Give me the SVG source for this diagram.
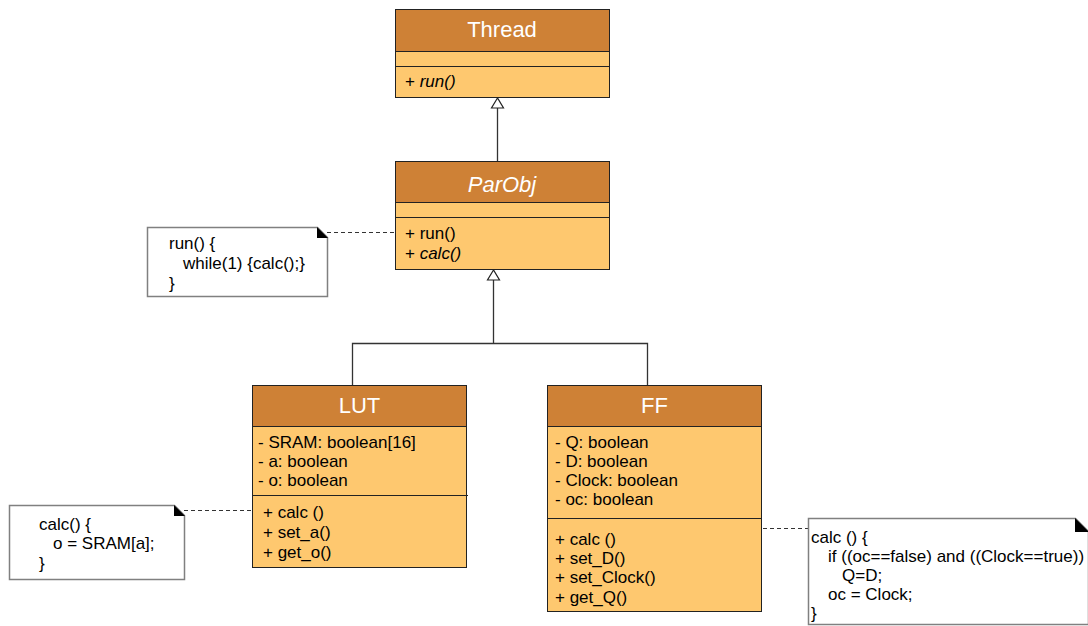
<svg xmlns="http://www.w3.org/2000/svg" width="1088" height="626" viewBox="0 0 1088 626">
<defs>
<style>
.hdr{fill:#CE8136;stroke:#222;stroke-width:1}
.body{fill:#FEC86F;stroke:#222;stroke-width:1}
.div{stroke:#222;stroke-width:1}
.title{font-family:"Liberation Sans",Arial,sans-serif;font-size:22px;fill:#fff;text-anchor:middle}
.t{font-family:"Liberation Sans",Arial,sans-serif;font-size:17px;fill:#000}
.nt{font-family:"Liberation Sans",Arial,sans-serif;font-size:17px;fill:#000}
.it{font-style:italic}
.note{fill:#fff;stroke:#808080;stroke-width:1.5}
.ear{fill:#000}
.dash{stroke:#333;stroke-width:1;stroke-dasharray:4,3;fill:none}
.gen{stroke:#333;stroke-width:1.3;fill:none}
.tri{fill:#fff;stroke:#222;stroke-width:1.2}
</style>
</defs>
<rect width="1088" height="626" fill="#fff"/>

<g id="connectors">
<path class="gen" d="M497.5,107 V161"/>
<path class="tri" d="M497.5,98 L491.5,108 H503.5 Z"/>
<path class="gen" d="M493.5,280 V343.5 M352.5,385 V343.5 H647.5 V385"/>
<path class="tri" d="M493.5,270 L487.5,280 H499.5 Z"/>
<path class="dash" d="M327,232.5 H395"/>
<path class="dash" d="M184,510.5 H252"/>
<path class="dash" d="M763,528.5 H808"/>
</g>

<g id="Thread">
<rect class="hdr" x="395.5" y="9.5" width="214" height="42"/>
<rect class="body" x="395.5" y="51.5" width="214" height="46"/>
<line class="div" x1="395.5" y1="66.5" x2="609.5" y2="66.5"/>
<text class="title" x="502" y="37">Thread</text>
<text class="t" x="405" y="87"><tspan>+ </tspan><tspan class="it">run()</tspan></text>
</g>

<g id="ParObj">
<rect class="hdr" x="395.5" y="161.5" width="214" height="41"/>
<rect class="body" x="395.5" y="202.5" width="214" height="67"/>
<line class="div" x1="395.5" y1="217.5" x2="609.5" y2="217.5"/>
<text class="title it" x="502" y="192">ParObj</text>
<text class="t" x="405" y="239">+ run()</text>
<text class="t" x="405" y="259"><tspan>+ </tspan><tspan class="it">calc()</tspan></text>
</g>

<g id="ParObjNote">
<path class="note" d="M147.5,227.5 H317.5 L327.5,237.5 V296.5 H147.5 Z"/>
<path class="ear" d="M317,227 V238 H328 Z"/>
<text class="nt" x="169" y="249">run() {</text>
<text class="nt" x="183" y="269">while(1) {calc();}</text>
<text class="nt" x="169" y="289">}</text>
</g>

<g id="LUT">
<rect class="hdr" x="252.5" y="385.5" width="214" height="41"/>
<rect class="body" x="252.5" y="426.5" width="214" height="141"/>
<line class="div" x1="252.5" y1="495.5" x2="468" y2="495.5"/>
<text class="title" x="359.5" y="413">LUT</text>
<text class="t" x="258" y="448">- SRAM: boolean[16]</text>
<text class="t" x="258" y="467">- a: boolean</text>
<text class="t" x="258" y="486">- o: boolean</text>
<text class="t" x="263" y="518">+ calc ()</text>
<text class="t" x="263" y="538">+ set_a()</text>
<text class="t" x="263" y="558">+ get_o()</text>
</g>

<g id="LUTNote">
<path class="note" d="M9.5,505.5 H174.5 L184.5,515.5 V579.5 H9.5 Z"/>
<path class="ear" d="M174,505 V516 H185 Z"/>
<text class="nt" x="39" y="530">calc() {</text>
<text class="nt" x="53" y="549">o = SRAM[a];</text>
<text class="nt" x="39" y="569">}</text>
</g>

<g id="FF">
<rect class="hdr" x="547.5" y="385.5" width="214" height="41"/>
<rect class="body" x="547.5" y="426.5" width="214" height="185"/>
<line class="div" x1="547.5" y1="518.5" x2="761.5" y2="518.5"/>
<text class="title" x="654.5" y="413">FF</text>
<text class="t" x="555" y="448">- Q: boolean</text>
<text class="t" x="555" y="467">- D: boolean</text>
<text class="t" x="555" y="486">- Clock: boolean</text>
<text class="t" x="555" y="505">- oc: boolean</text>
<text class="t" x="555" y="545">+ calc ()</text>
<text class="t" x="555" y="564">+ set_D()</text>
<text class="t" x="555" y="583">+ set_Clock()</text>
<text class="t" x="555" y="603">+ get_Q()</text>
</g>

<g id="FFNote">
<path class="note" d="M808.5,518.5 H1075.5 L1088.5,531.5 V624.5 H808.5 Z"/>
<path class="ear" d="M1075,518 V532 H1089 Z"/>
<text class="nt" x="811" y="543">calc () {</text>
<text class="nt" x="828" y="562">if ((oc==false) and ((Clock==true))</text>
<text class="nt" x="842" y="581">Q=D;</text>
<text class="nt" x="828" y="600">oc = Clock;</text>
<text class="nt" x="811" y="619">}</text>
</g>
</svg>
